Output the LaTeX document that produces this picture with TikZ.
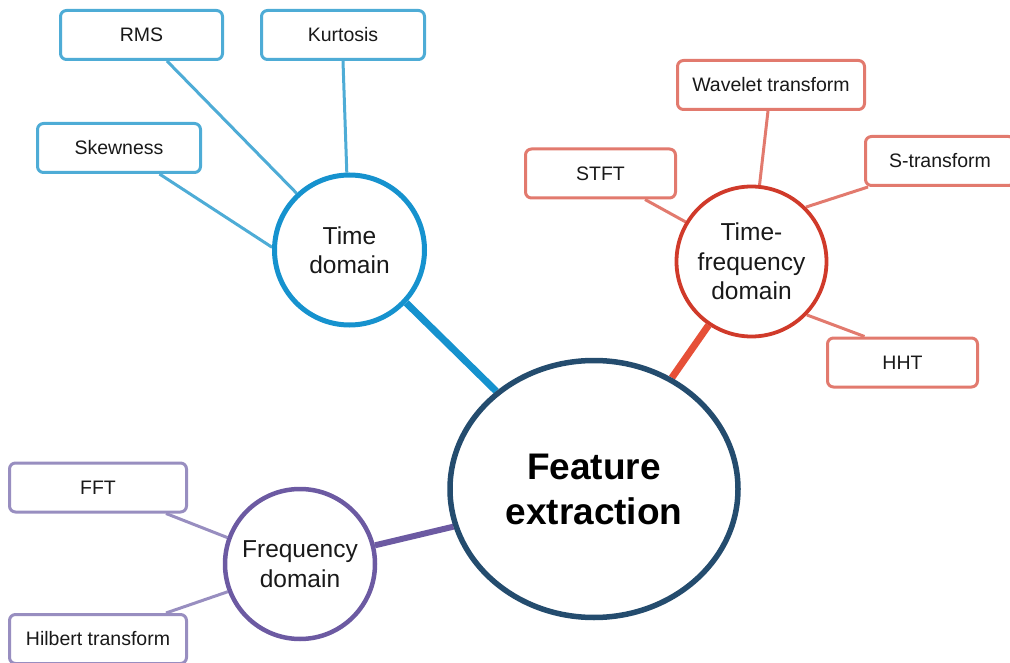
\documentclass[tikz,border=0pt]{standalone}
\usepackage{fontspec}
\setmainfont{Liberation Sans}
\usetikzlibrary{shapes.geometric,calc,backgrounds}
\definecolor{tdC}{RGB}{22,146,206}
\definecolor{tdL}{RGB}{78,172,214}
\definecolor{tfC}{RGB}{208,58,42}
\definecolor{tfL}{RGB}{226,122,110}
\definecolor{tfT}{RGB}{230,80,56}
\definecolor{fdC}{RGB}{108,90,162}
\definecolor{fdL}{RGB}{152,142,192}
\definecolor{feC}{RGB}{36,76,110}
\definecolor{txt}{RGB}{25,25,25}
\tikzset{
  leaf/.style={draw, line width=3pt, rounded corners=6pt, fill=white, text=txt,
    minimum height=49pt, inner sep=0pt, font=\fontsize{19.5}{23}\selectfont},
  hub/.style={circle, draw, fill=white, text=txt, minimum size=150pt, inner sep=0pt,
    align=center, font=\fontsize{24.5}{29.5}\selectfont},
  thin/.style={line width=3pt},
  thick/.style={line width=7pt},
}
\begin{document}
\begin{tikzpicture}[x=1pt,y=-1pt]
\useasboundingbox (0,0) rectangle (1010,663);
\clip (0,0) rectangle (1010,663);
% main
\node[ellipse, draw=feC, line width=5.5pt, fill=white, text=black, minimum width=288pt,
  minimum height=257pt, inner sep=0pt, align=center,
  font=\fontsize{37}{45}\selectfont\bfseries] (fe) at (594,489) {Feature\\extraction};
% hubs
\node[hub, draw=tdC, line width=5pt] (td) at (349.5,250) {Time\\domain};
\node[hub, draw=tfC, line width=3.8pt] (tf) at (751.5,261.5) {Time-\\frequency\\domain};
\node[hub, draw=fdC, line width=4.5pt] (fd) at (300,564) {Frequency\\domain};
% leaves
\node[leaf, draw=tdL, minimum width=162pt] (rms) at (141.5,35) {RMS};
\node[leaf, draw=tdL, minimum width=163pt] (kur) at (343,35) {Kurtosis};
\node[leaf, draw=tdL, minimum width=163pt] (skw) at (119,148) {Skewness};
\node[leaf, draw=tfL, minimum width=187pt] (wav) at (771,85) {Wavelet transform};
\node[leaf, draw=tfL, minimum width=150pt] (stft) at (600.5,173.5) {STFT};
\node[leaf, draw=tfL, minimum width=149pt] (st) at (940,161) {S-transform};
\node[leaf, draw=tfL, minimum width=150pt] (hht) at (902.5,362.5) {HHT};
\node[leaf, draw=fdL, minimum width=177pt] (fft) at (98,487.5) {FFT};
\node[leaf, draw=fdL, minimum width=177pt] (hil) at (98,639) {Hilbert transform};
% connectors
\begin{scope}[on background layer]
\draw[thin, tdL] ($(rms.south)+(25.5,0)$) -- (td.133);
\draw[thin, tdL] (kur.south) -- (td.92);
\draw[thin, tdL] ($(skw.south)+(40.5,0)$) -- (td.178);
\draw[thin, tfL] ($(wav.south)+(-3,0)$) -- (tf.84);
\draw[thin, tfL] ($(stft.south)+(44.5,0)$) -- (tf.149);
\draw[thin, tfL] ($(st.south)+(-72,0)$) -- (tf.45);
\draw[thin, tfL] ($(hht.north)+(-38,0)$) -- (tf.-44.5);
\draw[thin, fdL] ($(fft.south)+(68,0)$) -- (fd.160);
\draw[thin, fdL] ($(hil.north)+(68,0)$) -- (fd.-159);
\draw[thick, tdC] (td.-43) -- (fe.135);
\draw[thick, tfT] (tf.-124) -- (fe.55.6);
\draw[line width=6pt, fdC] (fd.14) -- (fe.-165.7);
\end{scope}
\end{tikzpicture}
\end{document}
